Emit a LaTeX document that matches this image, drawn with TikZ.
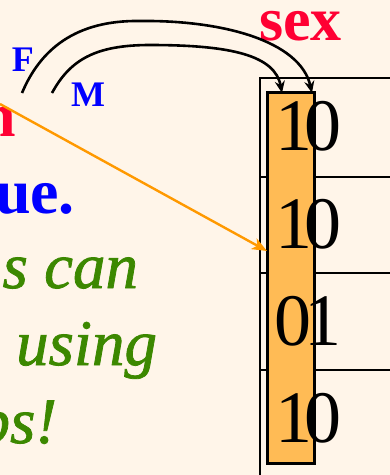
\documentclass[tikz,border=0pt]{standalone}
\usepackage{fontspec}
\setmainfont{Liberation Serif}
\newfontfamily\heavyit{Liberation Serif}[FakeBold=1.2]
\usetikzlibrary{arrows.meta}
\definecolor{bg}{RGB}{255,245,233}
\definecolor{slred}{RGB}{255,0,51}
\definecolor{slblue}{RGB}{0,0,255}
\definecolor{slgreen}{RGB}{60,136,0}
\definecolor{barfill}{RGB}{255,187,85}
\definecolor{arrorange}{RGB}{255,153,0}
\begin{document}
\begin{tikzpicture}[x=1pt,y=-1pt,
  txt/.style={inner sep=0pt, outer sep=0pt},
  digits/.style={txt, anchor=base west, font=\fontsize{74}{80}\selectfont},
  bigred/.style={txt, text=slred, font=\bfseries\fontsize{62}{70}\selectfont},
  bigblue/.style={txt, text=slblue, font=\bfseries\fontsize{64}{70}\selectfont},
  greenit/.style={txt, text=slgreen, font=\heavyit\itshape\fontsize{65}{75}\selectfont},
  smallblue/.style={txt, text=slblue, font=\bfseries\fontsize{36}{40}\selectfont, anchor=base west},
  tableline/.style={line width=2.6pt, black},
  bar/.style={draw=black, line width=2.4pt, fill=barfill, minimum width=47pt, minimum height=371pt, inner sep=0pt},
  link/.style={line width=2.6pt, black, -{Stealth[length=12pt,width=10pt,inset=4pt]}},
  pointer/.style={line width=2.4pt, arrorange, -{Stealth[length=15pt,width=12pt,inset=4pt]}}
]
\useasboundingbox (0,0) rectangle (390,475);
\fill[bg] (0,0) rectangle (390,475);
\clip (0,0) rectangle (390,475);

% table
\draw[tableline] (260,477) -- (260,78) -- (392,78);
\draw[tableline] (260,177) -- (392,177);
\draw[tableline] (260,273) -- (392,273);
\draw[tableline] (260,370) -- (392,370);

% bitmap column
\node[bar] (bar) at (291,278) {};

% digits
\node[digits] (r1) at (275,150) {1\kern-8pt 0};
\node[digits] (r2) at (275,248) {1\kern-8pt 0};
\node[digits] (r3) at (274,345) {0\kern-7pt 1};
\node[digits] (r4) at (275,442) {1\kern-8pt 0};

% texts
\node[bigred, anchor=base west] (sex) at (259,40) {sex};
\node[bigred, anchor=base east] (redn) at (16,136) {n};
\node[bigblue, anchor=base east] (ue) at (75,213) {ue.};
\node[greenit, anchor=base east] (l1) at (138,288) {s can};
\node[greenit, anchor=base east] (l2) at (157,365) {using};
\node[greenit, anchor=base east] (l3) at (57,443) {ps!};
\node[smallblue] (F) at (12,71) {F};
\node[smallblue] (M) at (71,106) {M};

% connectors
\coordinate (fF) at (22,93);
\coordinate (fM) at (52,93);
\coordinate (tipF) at (312,93);
\coordinate (tipM) at (282,93);
\draw[link] (fF) .. controls (40,50) and (75,20) .. (140,21) .. controls (220,20) and (300,40) .. (tipF);
\draw[link] (fM) .. controls (70,60) and (95,45) .. (150,45) .. controls (230,45) and (275,55) .. (tipM);

\coordinate (ostart) at (0,104);
\coordinate (tipO) at (267,251);
\draw[pointer] (ostart) -- (tipO);
\end{tikzpicture}
\end{document}
